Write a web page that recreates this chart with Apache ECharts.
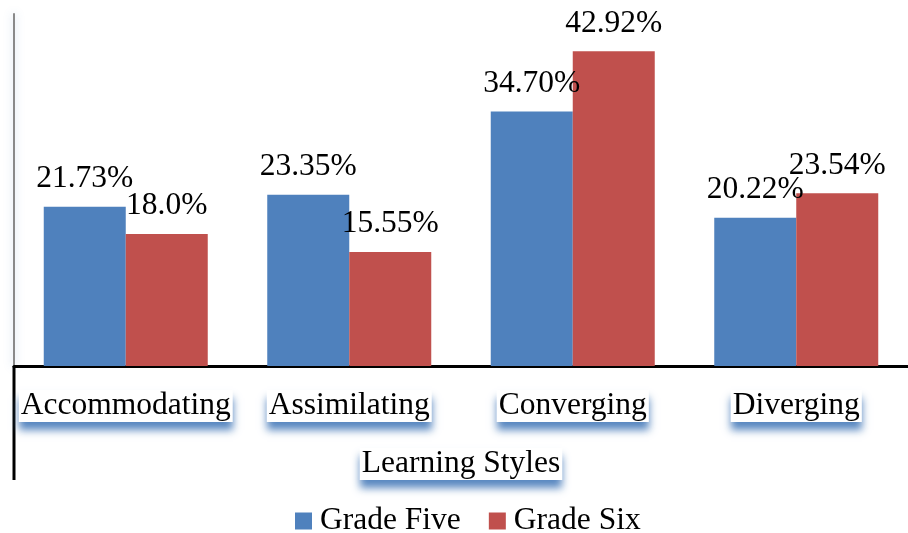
<!DOCTYPE html>
<html><head><meta charset="utf-8">
<script src="https://cdn.jsdelivr.net/npm/echarts@6/dist/echarts.min.js"></script>
<style>html,body{margin:0;padding:0;background:#fff}#c{width:908px;height:533px}</style>
</head><body><div id="c"></div>
<script>
const categories = ['Accommodating', 'Assimilating', 'Converging', 'Diverging'];
const gradeFive = [21.73, 23.35, 34.70, 20.22];
const gradeSix = [18.0, 15.55, 42.92, 23.54];
const gradeFiveLabels = ['21.73%', '23.35%', '34.70%', '20.22%'];
const gradeSixLabels = ['18.0%', '15.55%', '42.92%', '23.54%'];
const seriesNames = ['Grade Five', 'Grade Six'];

const FONT = '"Liberation Serif", "Times New Roman", serif';
const FS = 31.5;
const chart = echarts.init(document.getElementById('c'), null, {renderer: 'canvas'});
const boxStyle = {
  backgroundColor: '#fff',
  shadowColor: 'rgba(79,129,189,0.95)',
  shadowBlur: 8,
  shadowOffsetY: 8,
  padding: [0, 2, 0, 2]
};
function mkSeries(name, vals, labels, color) {
  return {
    name: name, type: 'bar', data: vals, barWidth: 82, barGap: '0%',
    itemStyle: {color: color},
    label: {
      show: true, position: 'top', distance: 12,
      fontFamily: FONT, fontSize: FS, color: '#000',
      formatter: p => labels[p.dataIndex]
    }
  };
}
chart.setOption({
  animation: false,
  grid: {left: 14, top: 14, width: 900, height: 352, containLabel: false},
  legend: {
    left: 290, bottom: -9, itemGap: 28, itemWidth: 17, itemHeight: 17, icon: 'rect',
    textStyle: {fontFamily: FONT, fontSize: FS, color: '#000', padding: [0, 0, 0, 3]},
    data: seriesNames
  },
  xAxis: {
    type: 'category', data: categories,
    axisLine: {lineStyle: {color: '#000', width: 3}},
    axisTick: {show: false},
    axisLabel: Object.assign({fontFamily: FONT, fontSize: FS, color: '#000', margin: 24, interval: 0}, boxStyle),
    name: 'Learning Styles', nameLocation: 'middle', nameGap: 82,
    nameTextStyle: Object.assign({fontFamily: FONT, fontSize: FS, color: '#000'}, boxStyle)
  },
  yAxis: {
    type: 'value', min: 0, max: 48,
    axisLine: {show: true, lineStyle: {color: '#8a8a8a', width: 2, shadowColor: 'rgba(79,129,189,0.35)', shadowBlur: 8}},
    axisLabel: {show: false}, axisTick: {show: false}, splitLine: {show: false}
  },
  graphic: [{
    type: 'line', shape: {x1: 14, y1: 366, x2: 14, y2: 480},
    style: {stroke: '#000', lineWidth: 3}
  }],
  series: [
    mkSeries(seriesNames[0], gradeFive, gradeFiveLabels, '#4f81bd'),
    mkSeries(seriesNames[1], gradeSix, gradeSixLabels, '#c0504d')
  ]
});
</script></body></html>
